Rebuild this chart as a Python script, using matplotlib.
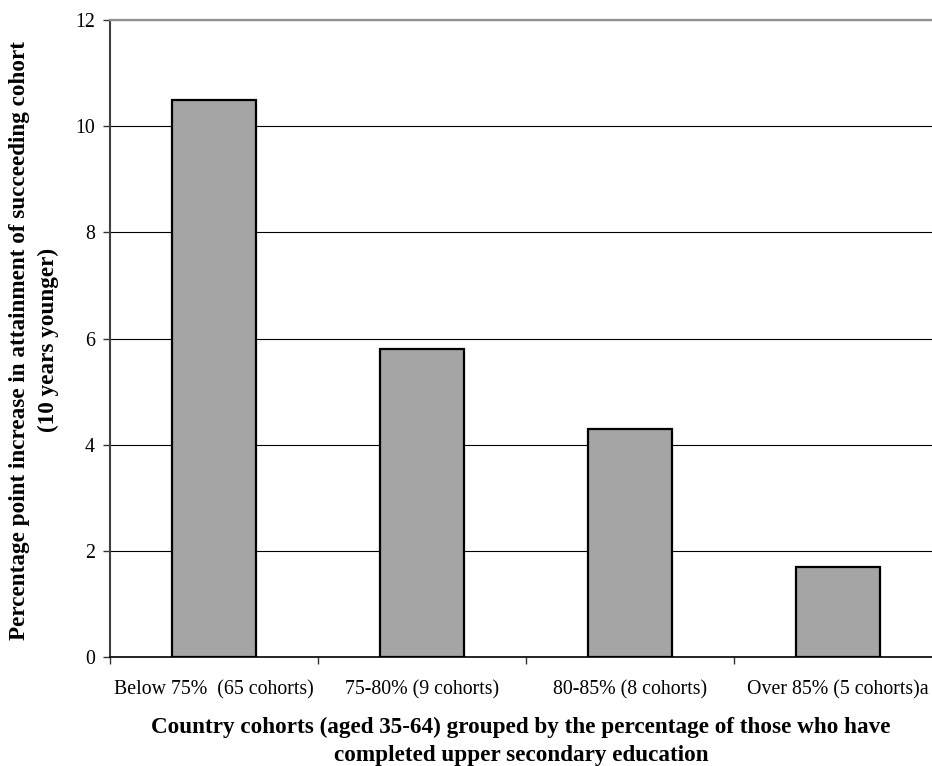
import matplotlib
matplotlib.use("Agg")
import matplotlib.pyplot as plt
from matplotlib.ticker import FixedLocator

categories = ["Below 75%  (65 cohorts)", "75-80% (9 cohorts)",
              "80-85% (8 cohorts)", "Over 85% (5 cohorts)a"]
values = [10.5, 5.8, 4.3, 1.7]
y_ticks = [0, 2, 4, 6, 8, 10, 12]

plt.rcParams["font.family"] = ["Liberation Serif", "DejaVu Serif"]

fig = plt.figure(figsize=(9.32, 7.66), dpi=100)
W, H = 932, 766
ax = fig.add_axes([110 / W, (H - 657) / H, (942 - 110) / W, (657 - 20) / H])

x = range(len(categories))
ax.bar(x, values, width=0.4, color="#a5a5a5", edgecolor="black",
       linewidth=1.6, zorder=3)

ax.set_xlim(-0.5, len(categories) - 0.5)
ax.set_ylim(0, 12)
ax.set_yticks(y_ticks)
ax.set_yticklabels([str(t) for t in y_ticks], fontsize=14.3)
ax.yaxis.grid(True, color="black", linewidth=0.8, zorder=0)
ax.set_axisbelow(True)

ax.set_xticks(list(x))
ax.set_xticklabels(categories, fontsize=14.3)
ax.tick_params(axis="x", which="major", length=0, pad=17)
ax.xaxis.set_minor_locator(FixedLocator([i - 0.5 for i in range(len(categories) + 1)]))
ax.tick_params(axis="x", which="minor", length=5, width=1, color="#333333")
ax.tick_params(axis="y", length=5, width=1, color="#333333", pad=6)

for side in ("top", "right"):
    ax.spines[side].set_visible(False)
ax.spines["left"].set_color("#404040")
ax.spines["left"].set_linewidth(1.5)
ax.spines["bottom"].set_color("black")
ax.spines["bottom"].set_linewidth(1.2)
ax.axhline(12, color="#909090", linewidth=1.6, zorder=4, clip_on=False)

ax.set_xlabel("Country cohorts (aged 35-64) grouped by the percentage of those who have\n"
              "completed upper secondary education",
              fontsize=16.7, fontweight="bold", linespacing=1.4)
ax.xaxis.set_label_coords((521 - 110) / (942 - 110), -(717 - 657) / (657 - 20))
ax.xaxis.label.set_va("top")
ax.set_ylabel("Percentage point increase in attainment of succeeding cohort\n"
              "(10 years younger)",
              fontsize=16.7, fontweight="bold", linespacing=1.45)
ax.yaxis.set_label_coords(-(110 - 34) / (942 - 110), (657 - 340) / (657 - 20))
ax.yaxis.label.set_va("center")

fig.savefig("out.png", dpi=100)
